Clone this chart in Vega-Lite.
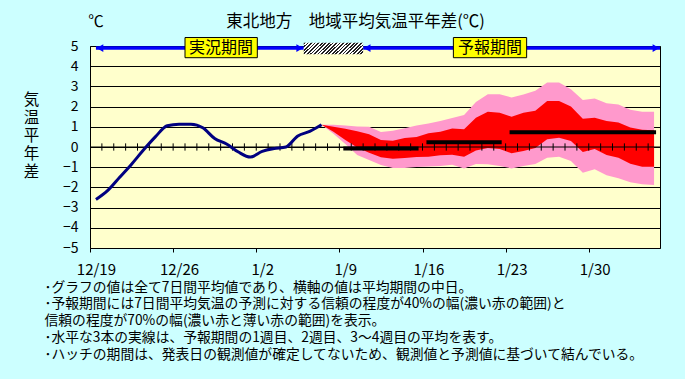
{
  "$schema": "https://vega.github.io/schema/vega-lite/v6.json",
  "width": 570,
  "height": 202,
  "autosize": {"type": "none"},
  "padding": {"left": 90, "top": 46, "right": 25, "bottom": 131},
  "background": "#CCFFFF",
  "config": {
    "font": "Noto Sans CJK JP",
    "view": {"fill": "#FFFFCC", "stroke": "black", "strokeWidth": 1},
    "axis": {"labelColor": "black", "titleColor": "black", "labelFont": "Noto Sans CJK JP", "titleFont": "Noto Sans CJK JP", "titleFontWeight": "normal"},
    "axisX": {"tickColor": "black", "tickSize": 4, "labelFontSize": 15, "labelPadding": 10, "labelFlush": false, "labelOverlap": false, "domain": false, "grid": false, "tickCount": 20},
    "axisY": {"grid": true, "gridColor": "black", "gridWidth": 1, "gridOpacity": 1, "ticks": false, "domain": false, "labelFontSize": 14, "labelPadding": 12, "labelOverlap": false, "tickCount": 11}
  },
  "datasets": {
    "obs": [
      {"date": "2021-12-19", "value": -2.6},
      {"date": "2021-12-20", "value": -2.15},
      {"date": "2021-12-21", "value": -1.5},
      {"date": "2021-12-22", "value": -0.85},
      {"date": "2021-12-23", "value": -0.15},
      {"date": "2021-12-24", "value": 0.5},
      {"date": "2021-12-25", "value": 1.05},
      {"date": "2021-12-26", "value": 1.13},
      {"date": "2021-12-27", "value": 1.13},
      {"date": "2021-12-28", "value": 0.95},
      {"date": "2021-12-29", "value": 0.42},
      {"date": "2021-12-30", "value": 0.15},
      {"date": "2021-12-31", "value": -0.25},
      {"date": "2022-01-01", "value": -0.5},
      {"date": "2022-01-02", "value": -0.22},
      {"date": "2022-01-03", "value": -0.08},
      {"date": "2022-01-04", "value": 0.0},
      {"date": "2022-01-05", "value": 0.55},
      {"date": "2022-01-06", "value": 0.77},
      {"date": "2022-01-07", "value": 1.1}
    ],
    "fc": [
      {"date": "2022-01-07", "p70lo": 1.1, "p40lo": 1.1, "p40hi": 1.1, "p70hi": 1.1},
      {"date": "2022-01-08", "p70lo": 0.65, "p40lo": 0.75, "p40hi": 1.0, "p70hi": 1.1},
      {"date": "2022-01-09", "p70lo": 0.15, "p40lo": 0.35, "p40hi": 0.9, "p70hi": 1.06},
      {"date": "2022-01-10", "p70lo": -0.4, "p40lo": -0.03, "p40hi": 0.78, "p70hi": 1.02},
      {"date": "2022-01-11", "p70lo": -0.64, "p40lo": -0.28, "p40hi": 0.63, "p70hi": 1.0},
      {"date": "2022-01-12", "p70lo": -0.89, "p40lo": -0.51, "p40hi": 0.35, "p70hi": 0.74},
      {"date": "2022-01-13", "p70lo": -1.04, "p40lo": -0.58, "p40hi": 0.31, "p70hi": 0.8},
      {"date": "2022-01-14", "p70lo": -1.04, "p40lo": -0.55, "p40hi": 0.45, "p70hi": 0.93},
      {"date": "2022-01-15", "p70lo": -0.99, "p40lo": -0.5, "p40hi": 0.5, "p70hi": 1.06},
      {"date": "2022-01-16", "p70lo": -0.96, "p40lo": -0.48, "p40hi": 0.68, "p70hi": 1.16},
      {"date": "2022-01-17", "p70lo": -0.94, "p40lo": -0.41, "p40hi": 0.76, "p70hi": 1.29},
      {"date": "2022-01-18", "p70lo": -0.88, "p40lo": -0.38, "p40hi": 0.91, "p70hi": 1.44},
      {"date": "2022-01-19", "p70lo": -1.07, "p40lo": -0.48, "p40hi": 0.88, "p70hi": 1.59},
      {"date": "2022-01-20", "p70lo": -0.84, "p40lo": -0.17, "p40hi": 1.45, "p70hi": 2.23},
      {"date": "2022-01-21", "p70lo": -0.86, "p40lo": -0.05, "p40hi": 1.75, "p70hi": 2.61},
      {"date": "2022-01-22", "p70lo": -0.94, "p40lo": -0.1, "p40hi": 1.7, "p70hi": 2.61},
      {"date": "2022-01-23", "p70lo": -1.06, "p40lo": -0.31, "p40hi": 1.5, "p70hi": 2.45},
      {"date": "2022-01-24", "p70lo": -0.94, "p40lo": -0.2, "p40hi": 1.7, "p70hi": 2.6},
      {"date": "2022-01-25", "p70lo": -0.84, "p40lo": -0.05, "p40hi": 1.79, "p70hi": 2.79},
      {"date": "2022-01-26", "p70lo": -0.53, "p40lo": 0.38, "p40hi": 2.28, "p70hi": 3.19},
      {"date": "2022-01-27", "p70lo": -0.48, "p40lo": 0.46, "p40hi": 2.28, "p70hi": 3.19},
      {"date": "2022-01-28", "p70lo": -0.69, "p40lo": 0.3, "p40hi": 2.0, "p70hi": 2.86},
      {"date": "2022-01-29", "p70lo": -1.27, "p40lo": -0.25, "p40hi": 1.4, "p70hi": 2.33},
      {"date": "2022-01-30", "p70lo": -1.1, "p40lo": -0.1, "p40hi": 1.45, "p70hi": 2.4},
      {"date": "2022-01-31", "p70lo": -1.4, "p40lo": -0.4, "p40hi": 1.29, "p70hi": 2.17},
      {"date": "2022-02-01", "p70lo": -1.55, "p40lo": -0.53, "p40hi": 1.21, "p70hi": 2.1},
      {"date": "2022-02-02", "p70lo": -1.74, "p40lo": -0.83, "p40hi": 0.96, "p70hi": 1.85},
      {"date": "2022-02-03", "p70lo": -1.85, "p40lo": -0.98, "p40hi": 0.86, "p70hi": 1.74},
      {"date": "2022-02-04", "p70lo": -1.88, "p40lo": -0.98, "p40hi": 0.83, "p70hi": 1.74}
    ],
    "weekly": [
      {"start": "2022-01-09", "end": "2022-01-15", "value": -0.08},
      {"start": "2022-01-16", "end": "2022-01-22", "value": 0.23},
      {"start": "2022-01-23", "end": "2022-02-04", "value": 0.73}
    ],
    "ticks": [
      {"t": "2021-12-19T12:00:00Z"}, {"t": "2021-12-20T12:00:00Z"}, {"t": "2021-12-21T12:00:00Z"}, {"t": "2021-12-22T12:00:00Z"},
      {"t": "2021-12-23T12:00:00Z"}, {"t": "2021-12-24T12:00:00Z"}, {"t": "2021-12-25T12:00:00Z"}, {"t": "2021-12-26T12:00:00Z"},
      {"t": "2021-12-27T12:00:00Z"}, {"t": "2021-12-28T12:00:00Z"}, {"t": "2021-12-29T12:00:00Z"}, {"t": "2021-12-30T12:00:00Z"},
      {"t": "2021-12-31T12:00:00Z"}, {"t": "2022-01-01T12:00:00Z"}, {"t": "2022-01-02T12:00:00Z"}, {"t": "2022-01-03T12:00:00Z"},
      {"t": "2022-01-04T12:00:00Z"}, {"t": "2022-01-05T12:00:00Z"}, {"t": "2022-01-06T12:00:00Z"}, {"t": "2022-01-07T12:00:00Z"},
      {"t": "2022-01-08T12:00:00Z"}, {"t": "2022-01-09T12:00:00Z"}, {"t": "2022-01-10T12:00:00Z"}, {"t": "2022-01-11T12:00:00Z"},
      {"t": "2022-01-12T12:00:00Z"}, {"t": "2022-01-13T12:00:00Z"}, {"t": "2022-01-14T12:00:00Z"}, {"t": "2022-01-15T12:00:00Z"},
      {"t": "2022-01-16T12:00:00Z"}, {"t": "2022-01-17T12:00:00Z"}, {"t": "2022-01-18T12:00:00Z"}, {"t": "2022-01-19T12:00:00Z"},
      {"t": "2022-01-20T12:00:00Z"}, {"t": "2022-01-21T12:00:00Z"}, {"t": "2022-01-22T12:00:00Z"}, {"t": "2022-01-23T12:00:00Z"},
      {"t": "2022-01-24T12:00:00Z"}, {"t": "2022-01-25T12:00:00Z"}, {"t": "2022-01-26T12:00:00Z"}, {"t": "2022-01-27T12:00:00Z"},
      {"t": "2022-01-28T12:00:00Z"}, {"t": "2022-01-29T12:00:00Z"}, {"t": "2022-01-30T12:00:00Z"}, {"t": "2022-01-31T12:00:00Z"},
      {"t": "2022-02-01T12:00:00Z"}, {"t": "2022-02-02T12:00:00Z"}, {"t": "2022-02-03T12:00:00Z"}
    ],
    "arrows": [
      {"start": "2021-12-19", "end": "2022-01-05T12:00:00Z"},
      {"start": "2022-01-10T12:00:00Z", "end": "2022-02-04T12:00:00Z"}
    ],
    "hatch": [
      {"start": "2022-01-05T12:00:00Z", "end": "2022-01-10T12:00:00Z"}
    ],
    "periods": [
      {"start": "2021-12-26T12:00:00Z", "end": "2022-01-01T14:10:00Z", "mid": "2021-12-29T12:45:00Z", "label": "実況期間"},
      {"start": "2022-01-18T02:24:00Z", "end": "2022-01-24T06:30:00Z", "mid": "2022-01-21T04:25:00Z", "label": "予報期間"}
    ],
    "zero": [{"value": 0}],
    "heads": [
      {"date": "2021-12-19", "text": "℃", "size": 15.5},
      {"date": "2022-01-09T20:40:00Z", "text": "東北地方　地域平均気温平年差(℃)", "size": 16.5}
    ]
  },
  "layer": [
    {
      "data": {"name": "fc"},
      "mark": {"type": "area", "color": "#FF99CC", "opacity": 1},
      "encoding": {
        "x": {
          "field": "date", "type": "temporal",
          "scale": {"type": "utc", "domain": [{"year": 2021, "month": 12, "date": 18, "hours": 12, "utc": true}, {"year": 2022, "month": 2, "date": 4, "hours": 12, "utc": true}]},
          "axis": {
            "values": [
              {"year": 2021, "month": 12, "date": 19, "utc": true},
              {"year": 2021, "month": 12, "date": 26, "utc": true},
              {"year": 2022, "month": 1, "date": 2, "utc": true},
              {"year": 2022, "month": 1, "date": 9, "utc": true},
              {"year": 2022, "month": 1, "date": 16, "utc": true},
              {"year": 2022, "month": 1, "date": 23, "utc": true},
              {"year": 2022, "month": 1, "date": 30, "utc": true}
            ],
            "tickCount": 20,
            "format": "%-m/%-d",
            "tickOffset": -5.9375,
            "labelOffset": 5.9375,
            "title": [
              "･グラフの値は全て7日間平均値であり、横軸の値は平均期間の中日。",
              "･予報期間には7日間平均気温の予測に対する信頼の程度が40%の幅(濃い赤の範囲)と",
              "信頼の程度が70%の幅(濃い赤と薄い赤の範囲)を表示。",
              "･水平な3本の実線は、予報期間の1週目、2週目、3～4週目の平均を表す。",
              "･ハッチの期間は、発表日の観測値が確定してないため、観測値と予測値に基づいて結んでいる。"
            ],
            "titleFontSize": 13.8,
            "titleAlign": "left",
            "titleAnchor": "start",
            "titleBaseline": "top",
            "titleX": -46,
            "titleY": 32,
            "titleLineHeight": 16.8,
            "titleLimit": 2000
          }
        },
        "y": {
          "field": "p70lo", "type": "quantitative",
          "scale": {"domain": [-5, 5], "nice": false, "zero": false},
          "axis": {
            "values": [-5, -4, -3, -2, -1, 0, 1, 2, 3, 4, 5],
            "tickCount": 11,
            "title": ["気", "温", "平", "年", "差"],
            "titleAngle": 0,
            "titleAlign": "center",
            "titleBaseline": "top",
            "titleFontSize": 15.5,
            "titleLineHeight": 18.2,
            "titleX": -59,
            "titleY": 46
          }
        },
        "y2": {"field": "p70hi"}
      }
    },
    {
      "data": {"name": "fc"},
      "mark": {"type": "area", "color": "#FF0000", "opacity": 1},
      "encoding": {
        "x": {"field": "date", "type": "temporal"},
        "y": {"field": "p40lo", "type": "quantitative"},
        "y2": {"field": "p40hi"}
      }
    },
    {
      "data": {"name": "zero"},
      "mark": {"type": "rule", "color": "black", "strokeWidth": 1},
      "encoding": {"y": {"field": "value", "type": "quantitative"}}
    },
    {
      "data": {"name": "ticks"},
      "mark": {"type": "rule", "color": "black", "strokeWidth": 1},
      "encoding": {
        "x": {"field": "t", "type": "temporal"},
        "y": {"datum": -0.18, "type": "quantitative"},
        "y2": {"datum": 0.18}
      }
    },
    {
      "data": {"name": "weekly"},
      "mark": {"type": "rule", "color": "black", "strokeWidth": 4, "strokeCap": "square"},
      "encoding": {
        "x": {"field": "start", "type": "temporal"},
        "x2": {"field": "end"},
        "y": {"field": "value", "type": "quantitative"}
      }
    },
    {
      "data": {"name": "obs"},
      "mark": {"type": "line", "color": "#000080", "strokeWidth": 3, "interpolate": "monotone"},
      "encoding": {
        "x": {"field": "date", "type": "temporal"},
        "y": {"field": "value", "type": "quantitative"}
      }
    },
    {
      "data": {"name": "arrows"},
      "mark": {"type": "rule", "color": "#0000FF", "strokeWidth": 3.5},
      "encoding": {
        "x": {"field": "start", "type": "temporal"},
        "x2": {"field": "end"},
        "y": {"datum": 4.9, "type": "quantitative"}
      }
    },
    {
      "data": {"name": "arrows"},
      "mark": {"type": "point", "shape": "triangle-left", "filled": true, "color": "#0000FF", "size": 60, "opacity": 1, "xOffset": 4},
      "encoding": {
        "x": {"field": "start", "type": "temporal"},
        "y": {"datum": 4.9, "type": "quantitative"}
      }
    },
    {
      "data": {"name": "arrows"},
      "mark": {"type": "point", "shape": "triangle-right", "filled": true, "color": "#0000FF", "size": 60, "opacity": 1, "xOffset": -4},
      "encoding": {
        "x": {"field": "end", "type": "temporal"},
        "y": {"datum": 4.9, "type": "quantitative"}
      }
    },
    {
      "data": {"name": "hatch"},
      "mark": {
        "type": "rect",
        "stroke": null,
        "fill": {
          "gradient": "linear", "x1": 0, "y1": 0, "x2": 1.154, "y2": 0.231,
          "stops": [
            {"offset": 0, "color": "#222"}, {"offset": 0.025, "color": "#222"}, {"offset": 0.025, "color": "#fff"}, {"offset": 0.05, "color": "#fff"},
            {"offset": 0.05, "color": "#222"}, {"offset": 0.075, "color": "#222"}, {"offset": 0.075, "color": "#fff"}, {"offset": 0.1, "color": "#fff"},
            {"offset": 0.1, "color": "#222"}, {"offset": 0.125, "color": "#222"}, {"offset": 0.125, "color": "#fff"}, {"offset": 0.15, "color": "#fff"},
            {"offset": 0.15, "color": "#222"}, {"offset": 0.175, "color": "#222"}, {"offset": 0.175, "color": "#fff"}, {"offset": 0.2, "color": "#fff"},
            {"offset": 0.2, "color": "#222"}, {"offset": 0.225, "color": "#222"}, {"offset": 0.225, "color": "#fff"}, {"offset": 0.25, "color": "#fff"},
            {"offset": 0.25, "color": "#222"}, {"offset": 0.275, "color": "#222"}, {"offset": 0.275, "color": "#fff"}, {"offset": 0.3, "color": "#fff"},
            {"offset": 0.3, "color": "#222"}, {"offset": 0.325, "color": "#222"}, {"offset": 0.325, "color": "#fff"}, {"offset": 0.35, "color": "#fff"},
            {"offset": 0.35, "color": "#222"}, {"offset": 0.375, "color": "#222"}, {"offset": 0.375, "color": "#fff"}, {"offset": 0.4, "color": "#fff"},
            {"offset": 0.4, "color": "#222"}, {"offset": 0.425, "color": "#222"}, {"offset": 0.425, "color": "#fff"}, {"offset": 0.45, "color": "#fff"},
            {"offset": 0.45, "color": "#222"}, {"offset": 0.475, "color": "#222"}, {"offset": 0.475, "color": "#fff"}, {"offset": 0.5, "color": "#fff"},
            {"offset": 0.5, "color": "#222"}, {"offset": 0.525, "color": "#222"}, {"offset": 0.525, "color": "#fff"}, {"offset": 0.55, "color": "#fff"},
            {"offset": 0.55, "color": "#222"}, {"offset": 0.575, "color": "#222"}, {"offset": 0.575, "color": "#fff"}, {"offset": 0.6, "color": "#fff"},
            {"offset": 0.6, "color": "#222"}, {"offset": 0.625, "color": "#222"}, {"offset": 0.625, "color": "#fff"}, {"offset": 0.65, "color": "#fff"},
            {"offset": 0.65, "color": "#222"}, {"offset": 0.675, "color": "#222"}, {"offset": 0.675, "color": "#fff"}, {"offset": 0.7, "color": "#fff"},
            {"offset": 0.7, "color": "#222"}, {"offset": 0.725, "color": "#222"}, {"offset": 0.725, "color": "#fff"}, {"offset": 0.75, "color": "#fff"},
            {"offset": 0.75, "color": "#222"}, {"offset": 0.775, "color": "#222"}, {"offset": 0.775, "color": "#fff"}, {"offset": 0.8, "color": "#fff"},
            {"offset": 0.8, "color": "#222"}, {"offset": 0.825, "color": "#222"}, {"offset": 0.825, "color": "#fff"}, {"offset": 0.85, "color": "#fff"},
            {"offset": 0.85, "color": "#222"}, {"offset": 0.875, "color": "#222"}, {"offset": 0.875, "color": "#fff"}, {"offset": 0.9, "color": "#fff"},
            {"offset": 0.9, "color": "#222"}, {"offset": 0.925, "color": "#222"}, {"offset": 0.925, "color": "#fff"}, {"offset": 0.95, "color": "#fff"},
            {"offset": 0.95, "color": "#222"}, {"offset": 0.975, "color": "#222"}, {"offset": 0.975, "color": "#fff"}, {"offset": 1, "color": "#fff"}
          ]
        }
      },
      "encoding": {
        "x": {"field": "start", "type": "temporal"},
        "x2": {"field": "end"},
        "y": {"datum": 5.16, "type": "quantitative"},
        "y2": {"datum": 4.59}
      }
    },
    {
      "data": {"name": "periods"},
      "mark": {"type": "rect", "fill": "#FFFF00", "stroke": "black", "strokeWidth": 1},
      "encoding": {
        "x": {"field": "start", "type": "temporal"},
        "x2": {"field": "end"},
        "y": {"datum": 5.42, "type": "quantitative"},
        "y2": {"datum": 4.42}
      }
    },
    {
      "data": {"name": "periods"},
      "mark": {"type": "text", "fontSize": 16, "color": "black", "align": "center", "baseline": "middle"},
      "encoding": {
        "x": {"field": "mid", "type": "temporal"},
        "y": {"datum": 4.92, "type": "quantitative"},
        "text": {"field": "label"}
      }
    },
    {
      "data": {"name": "heads"},
      "mark": {"type": "text", "color": "black", "align": "center", "baseline": "middle"},
      "encoding": {
        "x": {"field": "date", "type": "temporal"},
        "y": {"datum": 6.2, "type": "quantitative"},
        "text": {"field": "text"},
        "size": {"field": "size", "type": "quantitative", "scale": null}
      }
    }
  ]
}
